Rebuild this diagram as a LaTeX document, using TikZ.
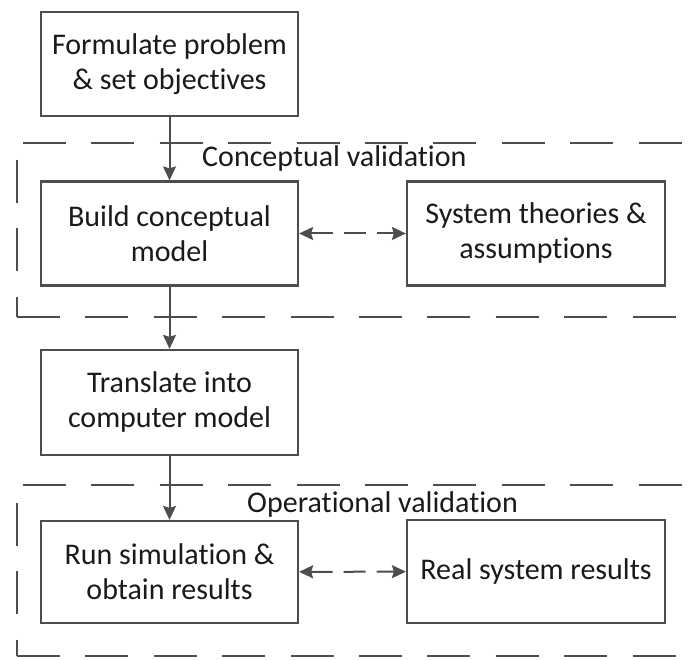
\documentclass[tikz,border=0pt]{standalone}
\usepackage{fontspec}
\setmainfont{Carlito}[Ligatures={NoCommon,NoDiscretionary}]
\usetikzlibrary{arrows.meta}
\definecolor{edge}{HTML}{4D4D4D}
\definecolor{ink}{HTML}{1A1A1A}
\begin{document}
\begin{tikzpicture}[x=1pt,y=-1pt,
  box/.style={draw=edge, line width=2.2pt, fill=white, minimum width=257pt,
    minimum height=104pt, inner sep=0pt, align=center, text=ink,
    font=\fontsize{30}{35}\selectfont},
  flow/.style={draw=edge, line width=2pt, -{Stealth[length=14pt,width=13pt,inset=2pt]}},
  link/.style={draw=edge, line width=2pt, dash pattern=on 22pt off 11pt,
    {Stealth[length=14pt,width=13pt,inset=2pt]}-{Stealth[length=14pt,width=13pt,inset=2pt]}},
  frame/.style={draw=edge, line width=2.6pt, dash pattern=on 43pt off 25.4pt},
  tag/.style={anchor=base west, inner sep=0pt, text=ink,
    font=\fontsize{30}{35}\selectfont}]
\useasboundingbox (0,0) rectangle (694,660);

% validation frames (open on the right)
\coordinate (c1tl) at (17,143);
\coordinate (c1bl) at (17,317);
\coordinate (c1tr) at (694,143);
\coordinate (c1br) at (694,317);
\draw[frame, dash phase=62.4pt] (c1tl) -- (c1tr);
\draw[frame, dash phase=51.4pt] (c1tl) -- (c1bl);
\draw[frame] (c1bl) -- (c1br);

\coordinate (c2tl) at (17,485);
\coordinate (c2bl) at (17,656);
\coordinate (c2tr) at (694,485);
\coordinate (c2br) at (694,656);
\draw[frame, dash phase=62.4pt] (c2tl) -- (c2tr);
\draw[frame, dash phase=50.4pt] (c2tl) -- (c2bl);
\draw[frame] (c2bl) -- (c2br);

\node[tag] (cv) at (202,167) {Conceptual validation};
\node[tag] (ov) at (247,512) {Operational validation};

% process boxes
\node[box] (form) at (169.5,64) {Formulate problem\\\& set objectives};
\node[box] (build) at (169.5,233.5) {Build conceptual\\model};
\node[box, minimum width=258pt] (theo) at (536,233.5) {System theories \&\\assumptions};
\node[box, minimum height=105pt] (trans) at (169.5,402.5) {Translate into\\computer model};
\node[box, minimum height=102pt] (run) at (169.5,572) {Run simulation \&\\obtain results};
\node[box, minimum width=258pt, minimum height=103pt] (real) at (536,571.5) {Real system results};

% connectors
\draw[flow] (form) -- (build);
\draw[flow] (build) -- (trans);
\draw[flow] (trans) -- (run);
\draw[link] (build) -- (theo);
\draw[link] (run) -- (real);
\end{tikzpicture}
\end{document}
